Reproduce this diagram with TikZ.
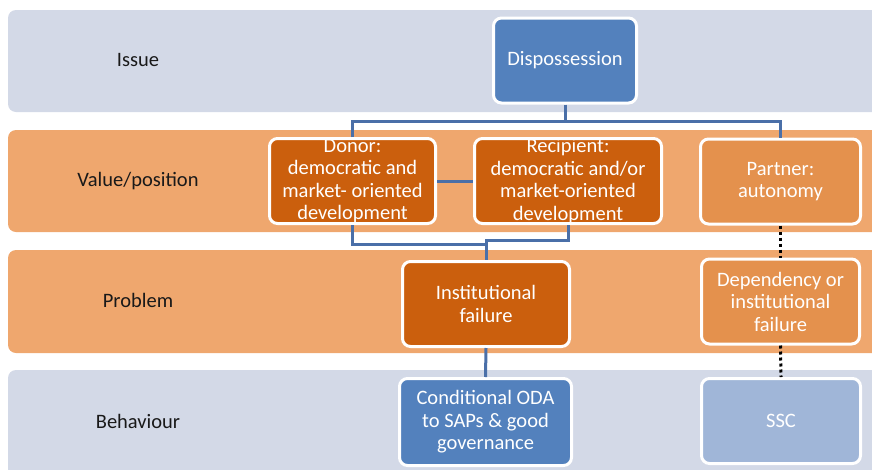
\documentclass[tikz,border=0pt]{standalone}
\usepackage{fontspec}
\setmainfont{Carlito}
\definecolor{bandblue}{HTML}{D3D9E7}
\definecolor{bandorange}{HTML}{EFA76E}
\definecolor{darkorange}{HTML}{CB5F0D}
\definecolor{midorange}{HTML}{E4914D}
\definecolor{boxblue}{HTML}{5381BD}
\definecolor{paleblue}{HTML}{A0B6D8}
\definecolor{linkblue}{HTML}{4A6FA8}
\tikzset{
  box/.style={draw=white, line width=3pt, rounded corners=8pt, text=white,
    align=center, inner sep=0pt, minimum height=85pt},
  rowlabel/.style={text=black!90},
  link/.style={linkblue, line width=3pt},
  dots/.style={black, line width=3pt, dash pattern=on 3pt off 3pt}
}

\begin{document}
\begin{tikzpicture}[x=1pt,y=-1pt,font=\fontsize{20.5}{22.5}\selectfont]
    \useasboundingbox (0,0) rectangle (872,469);
    \clip (0,0) rectangle (872,469);
    \fill[bandblue,rounded corners=8pt] (8,10) rectangle (890,112);
    \fill[bandorange,rounded corners=8pt] (8,130) rectangle (890,232);
    \fill[bandorange,rounded corners=8pt] (8,250) rectangle (890,353);
    \fill[bandblue,rounded corners=8pt] (8,370) rectangle (890,490);
    \node[rowlabel] (lissue) at (138,60) {Issue};
    \node[rowlabel] (lvalue) at (138,181) {Value/position};
    \node[rowlabel] (lproblem) at (138,300) {Problem};
    \node[rowlabel] (lbehav) at (138,421) {Behaviour};
    \node[box,fill=boxblue,minimum width=143pt] (disp) at (565,60.5) {Dispossession};
    \node[box,fill=darkorange,minimum width=166pt] (donor) at (352.5,181)
      {Donor:\\democratic and\\market- oriented\\development};
    \node[box,fill=darkorange,minimum width=187pt] (recip) at (568,181)
      {Recipient:\\democratic and/or\\market-oriented\\development};
    \node[box,fill=midorange,minimum width=160pt] (partner) at (780.5,181.5) {Partner:\\autonomy};
    \node[box,fill=darkorange,minimum width=167pt] (inst) at (486,304) {Institutional\\failure};
    \node[box,fill=midorange,minimum width=158pt] (depend) at (780.5,301.5)
      {Dependency or\\institutional\\failure};
    \node[box,fill=boxblue,minimum width=172pt,minimum height=87pt] (cond) at (485.5,422)
      {Conditional ODA\\to SAPs \& good\\governance};
    \node[box,fill=paleblue,minimum width=159pt] (ssc) at (781,421) {SSC};
    \coordinate (split) at (565,121);
    \coordinate (joind) at (486,244);
    \coordinate (joinr) at (486,240);
    \draw[link] (disp.south) -- (split);
    \draw[link] (donor.north) |- (split) -| (partner.north);
    \draw[link] (donor.east) -- (recip.west);
    \draw[link] (donor.south) |- (joind);
    \draw[link] (recip.south) |- (joinr) -- (inst.north);
    \draw[link] (inst.south) -- (cond.north);
    \draw[dots] (partner.south) -- (depend.north);
    \draw[dots] (depend.south) -- (ssc.north);
\end{tikzpicture}
\end{document}
